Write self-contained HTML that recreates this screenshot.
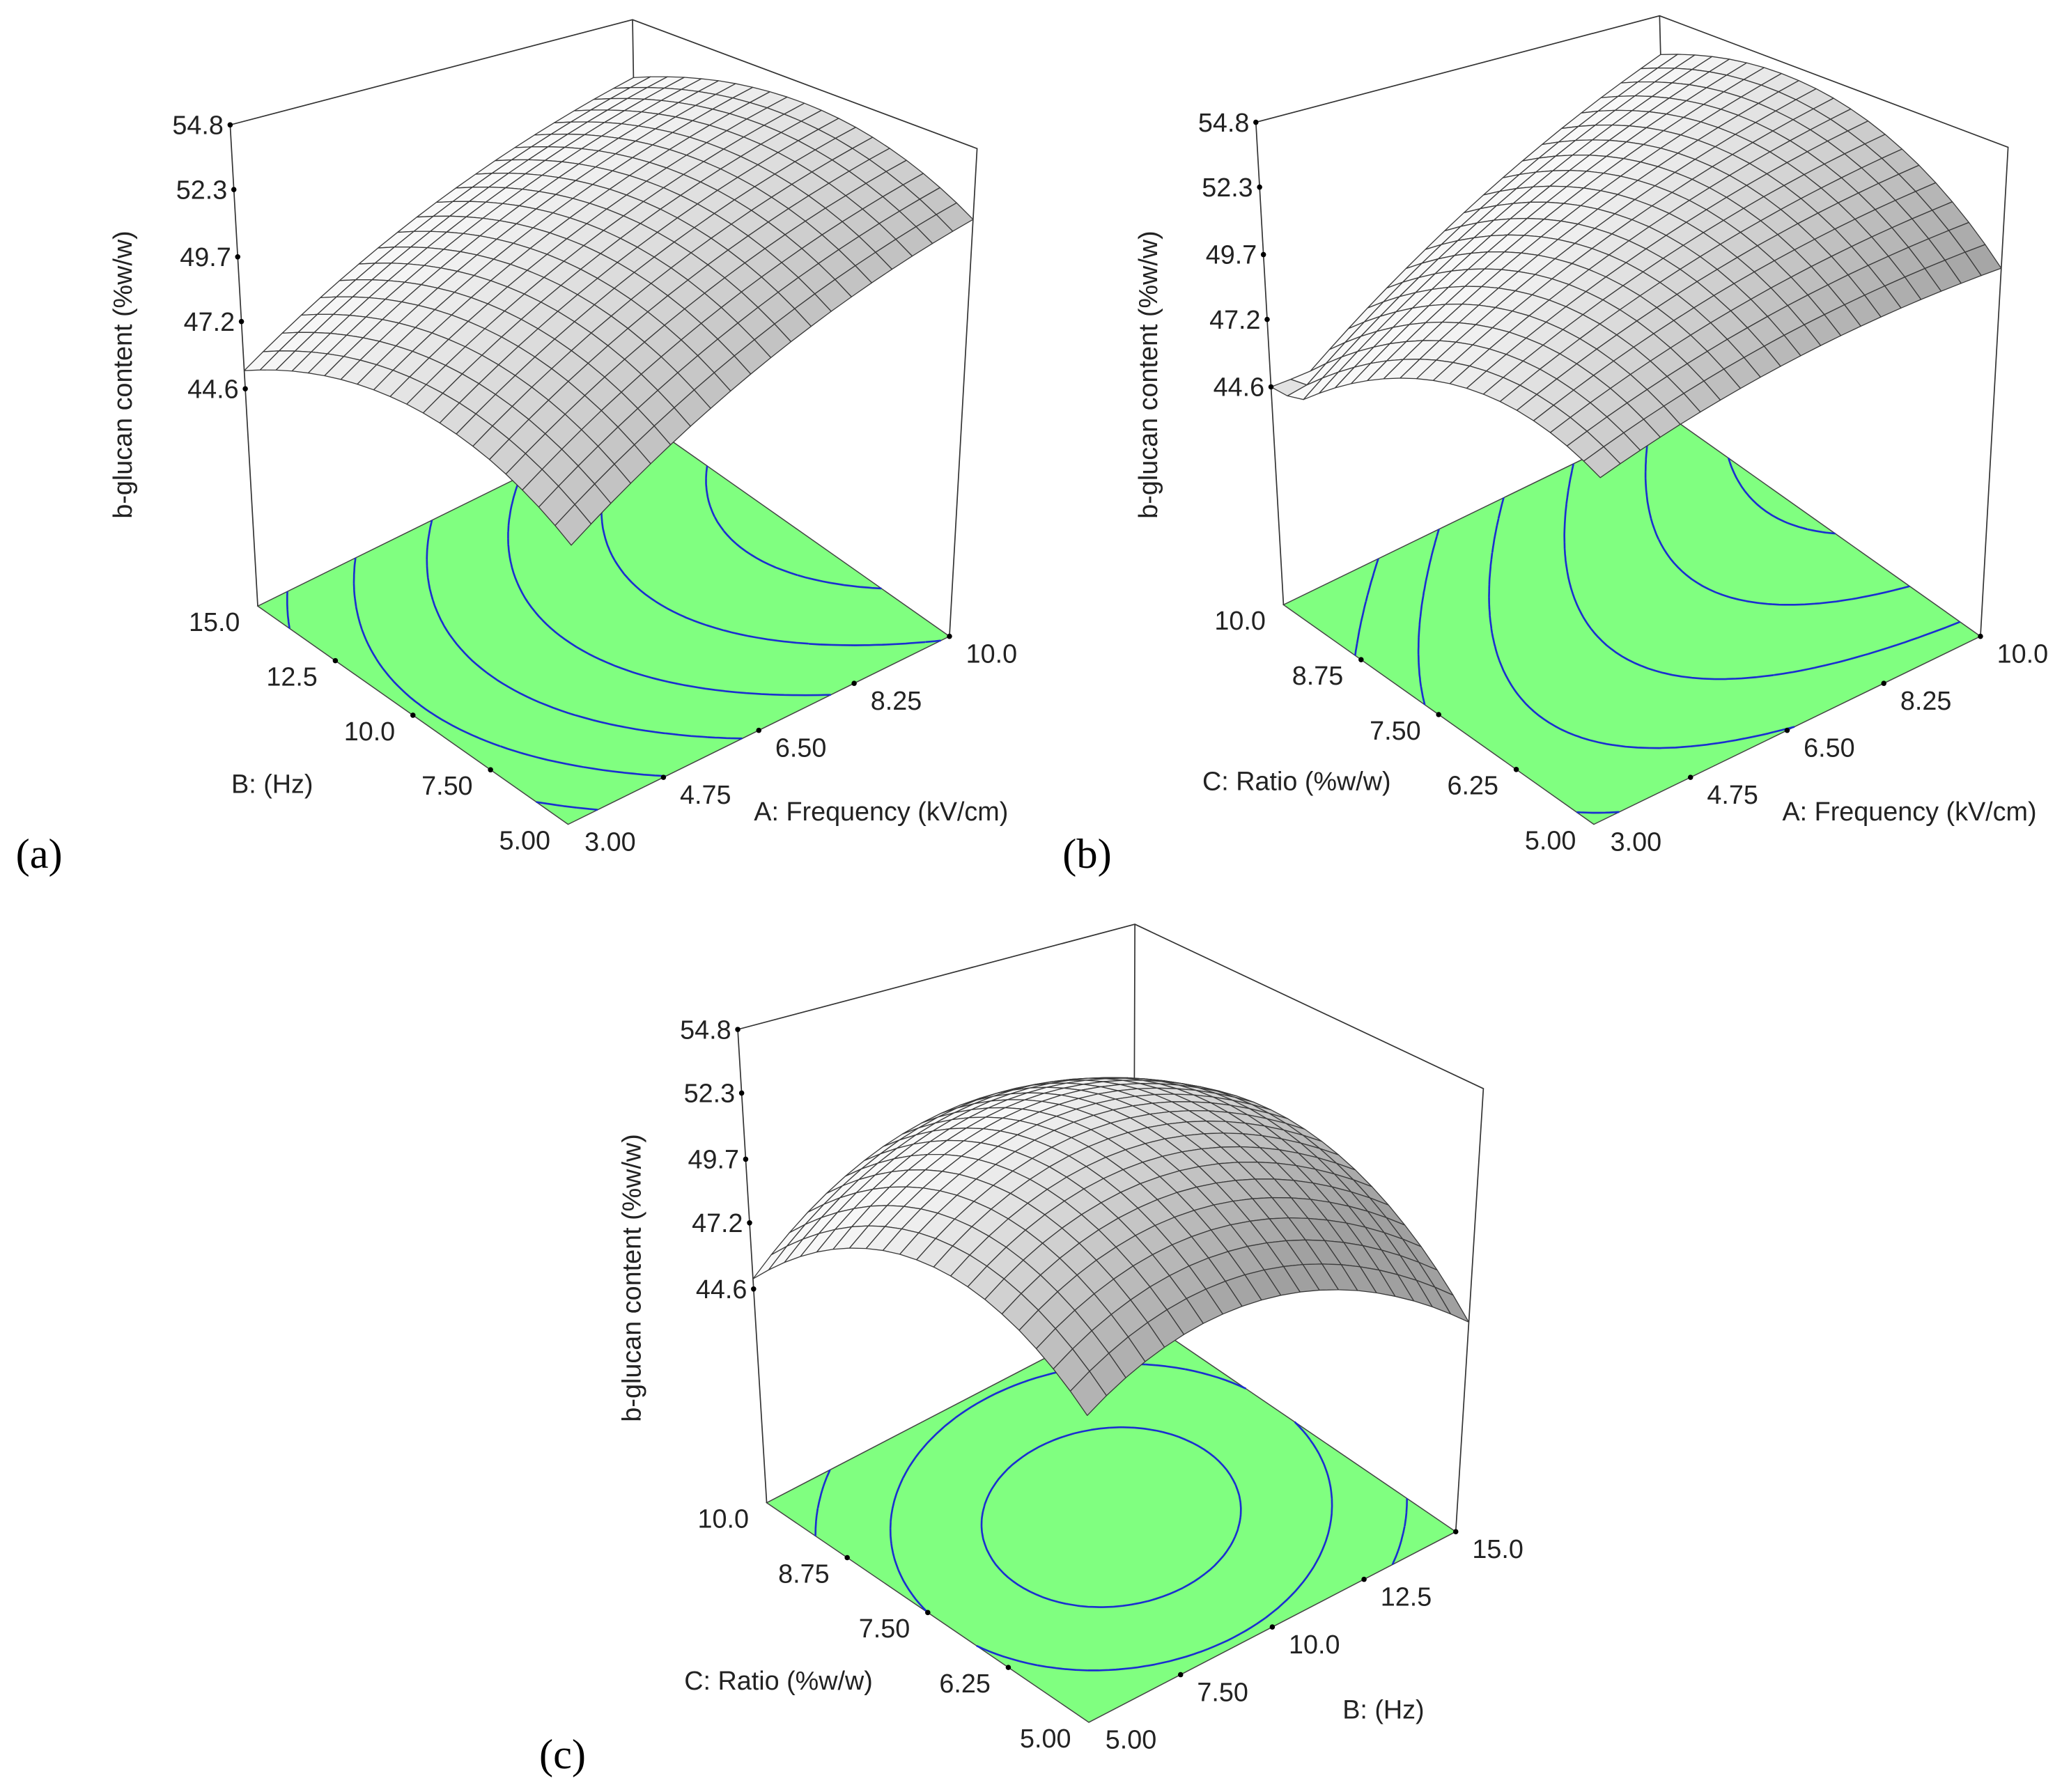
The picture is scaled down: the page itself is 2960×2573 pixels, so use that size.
<!DOCTYPE html>
<html><head><meta charset="utf-8"><style>
html,body{margin:0;padding:0;background:#fff}
svg{display:block}
text{font-family:"Liberation Sans",sans-serif;fill:#222}
.lbl{font-family:"Liberation Serif",serif;fill:#000}
</style></head><body>
<svg id="chart" width="2960" height="2573" viewBox="0 0 1568 1363" xmlns="http://www.w3.org/2000/svg">
<g id="layer"></g>
<text class="lbl" x="12" y="660" font-size="32">(a)</text>
<text class="lbl" x="808" y="660" font-size="32">(b)</text>
<text class="lbl" x="410" y="1345" font-size="32">(c)</text>
</svg>
<script>
// coefficients [b0, b1(u), b2(v), b11(u^2), b22(v^2), b12(uv)] on coded factors
const coefA = [51.2, 3.4, 0, -0.6, -1.9, 0];
const coefB = [51.55, 3.05, -0.3, -0.5, -2.5, 1.7];
const coefC = [52.2, 0, 0, -2.9, -3.3, 1];
const zTicks = ['54.8','52.3','49.7','47.2','44.6'];
const zTickValues = [54.8, 52.3, 49.7, 47.2, 44.6];
const levelsA = [46, 47.5, 49, 50.5, 52, 53.4];
const levelsB = [46.2, 47.8, 49.4, 51, 52.6, 54];
const levelsC = [47, 49.3, 51.2];
const ticksBHz_a = ['15.0','12.5','10.0','7.50','5.00'];
const ticksFreq = ['3.00','4.75','6.50','8.25','10.0'];
const ticksRatio = ['10.0','8.75','7.50','6.25','5.00'];
const ticksBHz_c = ['5.00','7.50','10.0','12.5','15.0'];

const NS='http://www.w3.org/2000/svg';
const layer=document.getElementById('layer');
function mk(tag,attrs,parent){const e=document.createElementNS(NS,tag);for(const k in attrs)e.setAttribute(k,attrs[k]);(parent||layer).appendChild(e);return e;}

const panels=[
 {id:'a',coef:coefA,levels:levelsA,top:{l:[175,95],b:[481,15],r:[743,113]},floor:{l:[196,461],f:[432,627],r:[722,484]},
  leftTicks:ticksBHz_a,rightTicks:ticksFreq,leftTitle:'B: (Hz)',leftTitlePos:[207,603],rightTitle:'A: Frequency (kV/cm)',rightTitlePos:[670,624],yTitlePos:[100,285]},
 {id:'b',coef:coefB,levels:levelsB,top:{l:[955,93],b:[1262,12],r:[1527,112]},floor:{l:[976,460],f:[1212,627],r:[1506,484]},
  leftTicks:ticksRatio,rightTicks:ticksFreq,leftTitle:'C: Ratio (%w/w)',leftTitlePos:[986,601],rightTitle:'A: Frequency (kV/cm)',rightTitlePos:[1452,624],yTitlePos:[880,285]},
 {id:'c',coef:coefC,levels:levelsC,top:{l:[561,783],b:[863,703],r:[1128,828]},floor:{l:[583,1143],f:[828,1310],r:[1107,1165]},
  leftTicks:ticksRatio,rightTicks:ticksBHz_c,leftTitle:'C: Ratio (%w/w)',leftTitlePos:[592,1285],rightTitle:'B: (Hz)',rightTitlePos:[1052,1307],yTitlePos:[487,972]}
];
const Z0=36.2, Z1=54.8, ZMIN=44.6;

function f(c,u,v){return c[0]+c[1]*u+c[2]*v+c[3]*u*u+c[4]*v*v+c[5]*u*v;}

panels.forEach(p=>{
  const g=mk('g',{});
  
  
  const T=p.top, F=p.floor;
  T.f=[T.l[0]+T.r[0]-T.b[0],T.l[1]+T.r[1]-T.b[1]];
  F.b=[F.l[0]+F.r[0]-F.f[0],F.l[1]+F.r[1]-F.f[1]];
  function bil(Q,s,t){return [0,1].map(i=>Q.f[i]*(1-s)*(1-t)+Q.r[i]*s*(1-t)+Q.l[i]*(1-s)*t+Q.b[i]*s*t);}
  function P(s,t,z){const a=bil(F,s,t),b=bil(T,s,t),k=(z-Z0)/(Z1-Z0);return [a[0]+(b[0]-a[0])*k,a[1]+(b[1]-a[1])*k];}
  const pt=q=>q[0].toFixed(1)+','+q[1].toFixed(1);
  const fl=mk('polygon',{points:[F.f,F.r,F.b,F.l].map(pt).join(' '),fill:'#80ff80',stroke:'#444','stroke-width':0.8},g);
  
  
  const N=60;
  const val=(i,j)=>f(p.coef,-1+2*i/N,-1+2*j/N);
  p.levels.forEach((L,li)=>{
    let d='';
    for(let i=0;i<N;i++)for(let j=0;j<N;j++){
      const c=[[i,j],[i+1,j],[i+1,j+1],[i,j+1]];
      const vs=c.map(q=>val(q[0],q[1]));
      const pts=[];
      for(let k=0;k<4;k++){const a=vs[k],b=vs[(k+1)%4];
        if((a<L)!==(b<L)){const tt=(L-a)/(b-a);const A=c[k],B=c[(k+1)%4];
          pts.push([(A[0]+(B[0]-A[0])*tt)/N,(A[1]+(B[1]-A[1])*tt)/N]);}}
      for(let k=0;k+1<pts.length;k+=2){d+='M'+pt(P(pts[k][0],pts[k][1],Z0))+'L'+pt(P(pts[k+1][0],pts[k+1][1],Z0));}
    }
    const cl=mk('path',{d:d,stroke:'#1a2fd0','stroke-width':1.4,fill:'none'},g);
    
    
  });
  const bx=mk('path',{d:'M'+pt(F.l)+'L'+pt(T.l)+'L'+pt(T.b)+'L'+pt(T.r)+'L'+pt(F.r)+'M'+pt(T.b)+'L'+pt(F.b),stroke:'#333','stroke-width':0.9,fill:'none'},g);
  
  
  const M=20, quads=[];
  for(let i=0;i<M;i++)for(let j=0;j<M;j++){
    const s0=i/M,s1=(i+1)/M,t0=j/M,t1=(j+1)/M;
    const z=(s,t)=>Math.max(ZMIN,f(p.coef,2*s-1,2*t-1));
    const um=(s0+s1)-1, vm=(t0+t1)-1;
    const c=p.coef, sc=2/(Z1-Z0);
    let dzu=(c[1]+2*c[3]*um+c[5]*vm)*sc, dzv=(c[2]+2*c[4]*vm+c[5]*um)*sc;
    if(f(c,um,vm)<ZMIN){dzu=0;dzv=0;}
    const n=[-dzu,-dzv,1],nl=Math.hypot(...n);
    const Lv=[-0.2,0.6,0.8],ll=Math.hypot(...Lv);
    const dot=(n[0]*Lv[0]+n[1]*Lv[1]+n[2]*Lv[2])/nl/ll;
    const gr=Math.max(160,Math.min(248,Math.round(120+135*dot)));
    quads.push({d:s0+s1+t0+t1,pts:[P(s0,t0,z(s0,t0)),P(s1,t0,z(s1,t0)),P(s1,t1,z(s1,t1)),P(s0,t1,z(s0,t1))],col:'rgb('+gr+','+gr+','+gr+')'});
  }
  quads.sort((a,b)=>b.d-a.d);
  const sg=mk('g',{},g);
  
  
  quads.forEach(q=>{
    const e=mk('polygon',{points:q.pts.map(pt).join(' '),fill:q.col,stroke:'#3a3a3a','stroke-width':0.7,'stroke-linejoin':'round'},sg);
    
    
  });
  zTickValues.forEach((zv,k)=>{
    const q=P(0,1,zv);
    const dt=mk('circle',{cx:q[0],cy:q[1],r:2,fill:'#000'},g);
    
    
    const tx=mk('text',{x:q[0]-5,y:q[1]+7,'font-size':20,'text-anchor':'end'},g);
    tx.textContent=zTicks[k];
    
    
  });
  p.leftTicks.forEach((lab,k)=>{
    const t=1-k/(p.leftTicks.length-1); const q=P(0,t,Z0);
    if(k>0&&k<p.leftTicks.length-1){const dt=mk('circle',{cx:q[0],cy:q[1],r:2,fill:'#000'},g);
      
      }
    const tx=mk('text',{x:q[0]-33,y:q[1]+19,'font-size':20,'text-anchor':'middle'},g);
    tx.textContent=lab;
    
    
  });
  p.rightTicks.forEach((lab,k)=>{
    const s=k/(p.rightTicks.length-1); const q=P(s,0,Z0);
    if(k>0){const dt=mk('circle',{cx:q[0],cy:q[1],r:2,fill:'#000'},g);
      
      }
    const tx=mk('text',{x:q[0]+32,y:q[1]+20,'font-size':20,'text-anchor':'middle'},g);
    tx.textContent=lab;
    
    
  });
  const lt=mk('text',{x:p.leftTitlePos[0],y:p.leftTitlePos[1],'font-size':20,'text-anchor':'middle'},g);
  lt.textContent=p.leftTitle;
  
  
  const rt=mk('text',{x:p.rightTitlePos[0],y:p.rightTitlePos[1],'font-size':20,'text-anchor':'middle'},g);
  rt.textContent=p.rightTitle;
  
  
  const yt=mk('text',{x:p.yTitlePos[0],y:p.yTitlePos[1],'font-size':20,'text-anchor':'middle',transform:'rotate(-90 '+p.yTitlePos[0]+' '+p.yTitlePos[1]+')'},g);
  yt.textContent='b-glucan content (%w/w)';
  
  
});
</script>
</body></html>
